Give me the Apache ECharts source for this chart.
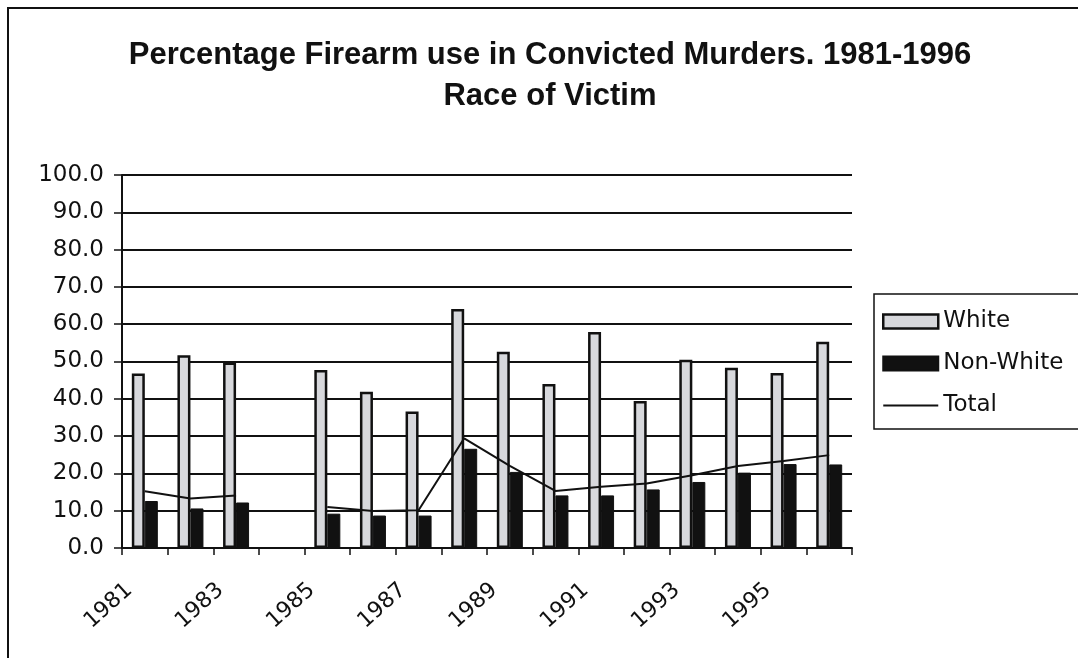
<!DOCTYPE html>
<html>
<head>
<meta charset="utf-8">
<script src="https://cdn.jsdelivr.net/npm/echarts@6/dist/echarts.min.js"></script>
<style>
  html, body { margin: 0; padding: 0; background: #fff; }
  #chart { width: 1078px; height: 658px; }
</style>
</head>
<body>
<div id="chart"></div>
<script>
// Firearm use in convicted murders by race of victim (percent), 1981-1996
const years = ['1981','1982','1983','1984','1985','1986','1987','1988',
               '1989','1990','1991','1992','1993','1994','1995','1996'];
const white    = [46.8, 51.7, 49.7, null, 47.7, 41.9, 36.6, 64.1,
                  52.6, 44.0, 57.9, 39.4, 50.5, 48.3, 46.9, 55.3];
const nonWhite = [12.6, 10.6, 12.2, null,  9.2,  8.7,  8.7, 26.6,
                  20.4, 14.1, 14.1, 15.7, 17.7, 20.2, 22.5, 22.4];
const total    = [15.2, 13.3, 14.1, null, 11.0,  9.9, 10.1, 29.4,
                  22.0, 15.3, 16.4, 17.3, 19.5, 22.0, 23.3, 24.9];

const TITLE_FONT = 'Liberation Sans, Arial, sans-serif';
const FONT = 'DejaVu Sans, Liberation Sans, sans-serif';
const chart = echarts.init(document.getElementById('chart'), null, { renderer: 'canvas' });

chart.setOption({
  backgroundColor: '#ffffff',
  animation: false,
  title: {
    text: 'Percentage Firearm use in Convicted Murders. 1981-1996\nRace of Victim',
    left: 545,
    textAlign: 'center',
    top: 30,
    textStyle: { fontFamily: TITLE_FONT, fontSize: 31, fontWeight: 'bold', color: '#111', lineHeight: 41 }
  },
  graphic: [{
    type: 'rect',
    shape: { x: 8, y: 8, width: 1200, height: 800 },
    style: { fill: 'none', stroke: '#111', lineWidth: 2 },
    silent: true
  }],
  legend: {
    orient: 'vertical',
    left: 874,
    top: 294,
    itemWidth: 55,
    itemHeight: 14,
    itemGap: 19,
    padding: [16, 30, 12, 8],
    borderColor: '#111',
    borderWidth: 1.5,
    textStyle: { fontFamily: FONT, fontSize: 23, color: '#111', lineHeight: 20 },
    data: [
      { name: 'White', icon: 'rect', itemStyle: { borderWidth: 2.5 } },
      { name: 'Non-White', icon: 'rect' },
      { name: 'Total', icon: 'path://M0 0 H55 V2 H0 Z', itemStyle: { color: '#111' } }
    ]
  },
  grid: { left: 122, right: 226, top: 175, bottom: 110, containLabel: false },
  xAxis: {
    type: 'category',
    data: years,
    boundaryGap: true,
    axisLine: { lineStyle: { color: '#111', width: 2 } },
    axisTick: { show: true, length: 7, interval: 0, lineStyle: { color: '#111', width: 1.5 } },
    axisLabel: {
      interval: 1,
      rotate: 42,
      margin: 25,
      padding: [0, 21, 0, 0],
      fontFamily: FONT,
      fontSize: 22,
      color: '#111'
    },
    splitLine: { show: false }
  },
  yAxis: {
    type: 'value',
    min: 0,
    max: 100,
    interval: 10,
    axisLine: { show: true, lineStyle: { color: '#111', width: 2 } },
    axisTick: { show: true, length: 8, lineStyle: { color: '#111', width: 1.5 } },
    axisLabel: {
      margin: 18,
      fontFamily: FONT,
      fontSize: 23,
      color: '#111',
      formatter: v => v.toFixed(1)
    },
    splitLine: { show: true, lineStyle: { color: '#111', width: 2 } }
  },
  series: [
    {
      name: 'White',
      type: 'bar',
      data: white,
      barWidth: 13,
      barGap: '0%',
      itemStyle: { color: '#d7d8dc', borderColor: '#111', borderWidth: 2.5 }
    },
    {
      name: 'Non-White',
      type: 'bar',
      data: nonWhite,
      barWidth: 13,
      itemStyle: { color: '#111111', borderColor: '#111', borderWidth: 1 }
    },
    {
      name: 'Total',
      type: 'line',
      data: total,
      symbol: 'none',
      connectNulls: false,
      lineStyle: { color: '#111', width: 2 },
      itemStyle: { color: '#111' },
      z: 5
    }
  ]
});
</script>
</body>
</html>
